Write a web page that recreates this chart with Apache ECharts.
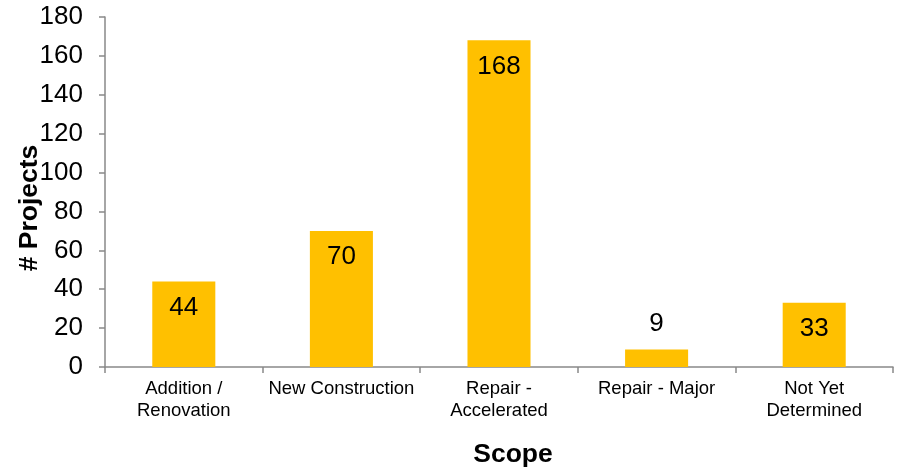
<!DOCTYPE html>
<html>
<head>
<meta charset="utf-8">
<script src="https://cdn.jsdelivr.net/npm/echarts@6/dist/echarts.min.js"></script>
<style>html,body{margin:0;padding:0;background:#fff;}#c{width:900px;height:469px;}</style>
</head>
<body>
<div id="c"></div>
<script>
const categories = ["Addition /\nRenovation", "New Construction", "Repair -\nAccelerated", "Repair - Major", "Not Yet\nDetermined"];
const projects = [44, 70, 168, 9, 33];
const yTicks = [0, 20, 40, 60, 80, 100, 120, 140, 160, 180];

const chart = echarts.init(document.getElementById('c'));
const font = 'Liberation Sans, Arial, sans-serif';
const axisGray = '#898989';

const barData = projects.map(v => {
  if (v < 20) {
    return { value: v, label: { position: 'top', distance: 13 } };
  }
  return v;
});

chart.setOption({
  animation: false,
  textStyle: { fontFamily: font },
  grid: { left: 105, right: 7, top: 17, bottom: 102, containLabel: false, outerBoundsMode: 'none' },
  xAxis: {
    type: 'category',
    data: categories,
    name: 'Scope',
    nameLocation: 'middle',
    nameGap: 74,
    nameMoveOverlap: false,
    nameTextStyle: { fontFamily: font, fontSize: 26.5, fontWeight: 'bold', color: '#000', padding: [0, 0, 0, 28] },
    axisLine: { lineStyle: { color: axisGray, width: 1.5 } },
    axisTick: { show: true, alignWithLabel: false, length: 6, lineStyle: { color: axisGray, width: 1.5 } },
    axisLabel: { fontFamily: font, fontSize: 18.5, color: '#000', margin: 11, lineHeight: 22, interval: 0 }
  },
  yAxis: {
    type: 'value',
    min: yTicks[0],
    max: yTicks[yTicks.length - 1],
    interval: 20,
    name: '# Projects',
    nameLocation: 'middle',
    nameGap: 62,
    nameMoveOverlap: false,
    nameRotate: 90,
    nameTextStyle: { fontFamily: font, fontSize: 26.5, fontWeight: 'bold', color: '#000', padding: [0, 32, 0, 0] },
    splitLine: { show: false },
    axisLine: { show: true, lineStyle: { color: axisGray, width: 1.5 } },
    axisTick: { show: true, length: 6, lineStyle: { color: axisGray, width: 1.5 } },
    axisLabel: { fontFamily: font, fontSize: 26, color: '#000', margin: 22 }
  },
  series: [{
    type: 'bar',
    data: barData,
    barWidth: '40%',
    itemStyle: { color: '#FFC000' },
    label: {
      show: true,
      position: 'insideTop',
      distance: 13,
      fontFamily: font,
      fontSize: 26,
      color: '#000'
    }
  }]
});
</script>
</body>
</html>
